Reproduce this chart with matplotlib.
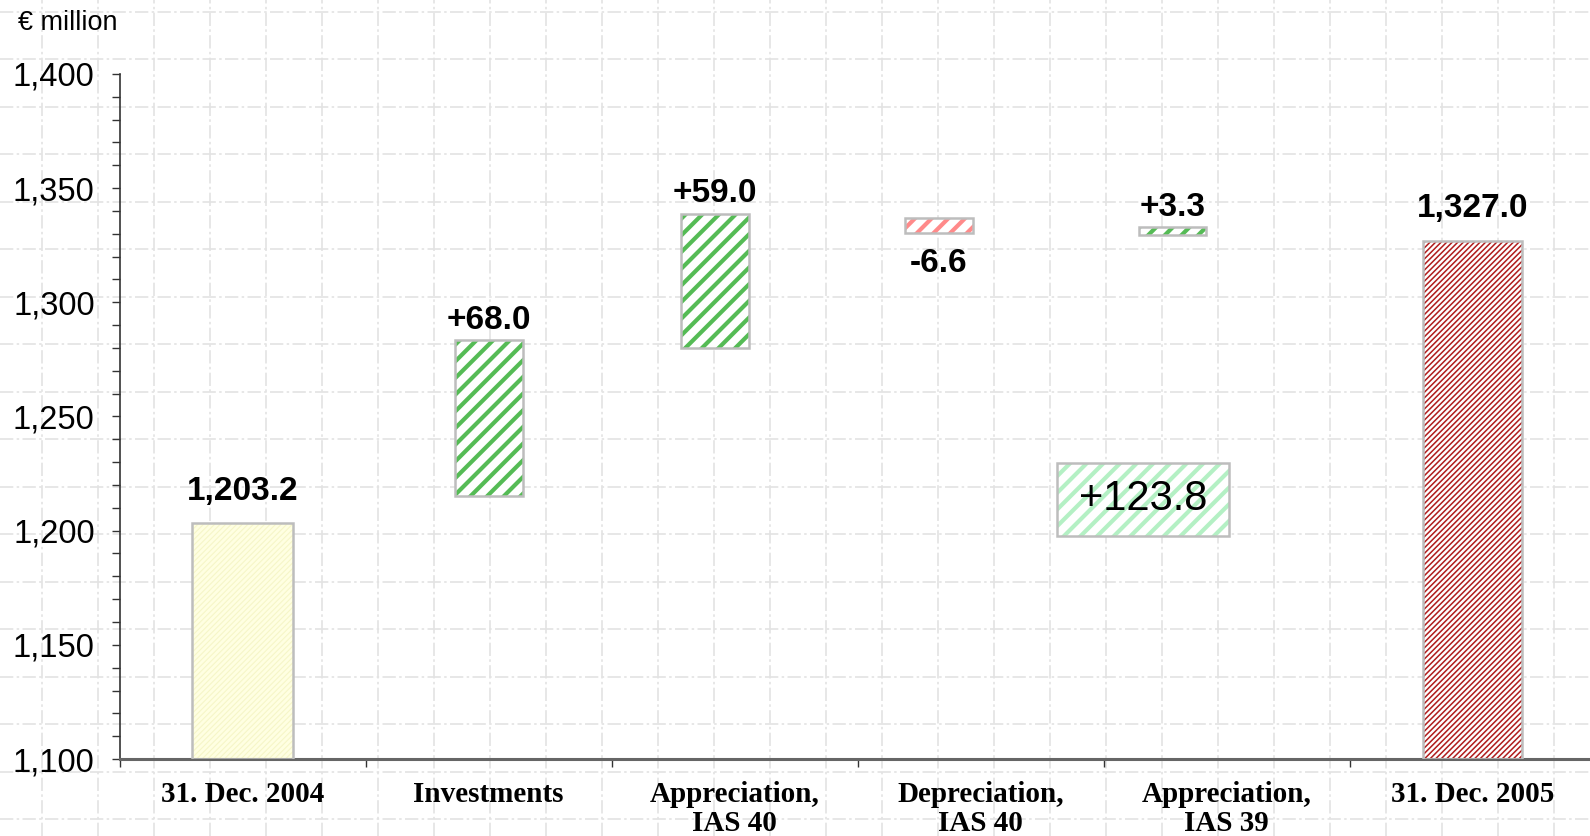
import matplotlib.pyplot as plt
from matplotlib.ticker import MultipleLocator
import numpy as np

categories = ['31. Dec. 2004', 'Investments', 'Appreciation,\nIAS 40',
              'Depreciation,\nIAS 40', 'Appreciation,\nIAS 39', '31. Dec. 2005']
start_value = 1203.2
end_value = 1327.0
changes = [68.0, 59.0, -6.6, 3.3]
change_floor = [1215.3, 1279.9, 1330.3, 1329.7]
y_ticks = [1100, 1150, 1200, 1250, 1300, 1350, 1400]

# change bars sit a little left of their category centre
bar_shift = [0.0, -0.08, -0.17, -0.22]

green = '#55bb55'
red = '#ff8a8a'
edge = '#bdbdbd'

plt.rcParams['font.family'] = ['Liberation Sans', 'DejaVu Sans']

fig = plt.figure(figsize=(15.9, 8.36), dpi=100)

# dash-dot sheet grid behind everything
bg = fig.add_axes([0, 0, 1, 1], zorder=0)
bg.set_xlim(0, 1590)
bg.set_ylim(836, 0)
bg.axis('off')
for gx in np.arange(42, 1590, 56):
    bg.axvline(gx, color='#e3e3e3', lw=1.2, ls=(0, (8, 2, 1.5, 2)))
for gy in np.arange(11.7, 836, 47.5):
    bg.axhline(gy, color='#e3e3e3', lw=1.2, ls=(0, (8, 2, 1.5, 2)))

ax = fig.add_axes([0.0753, 0.0921, 0.9247, 0.8194], zorder=1)
ax.patch.set_alpha(0)


def hatched_bar(x, bottom, height, width, face, stripe, hatch, hlw):
    with plt.rc_context({'hatch.linewidth': hlw}):
        bars = ax.bar(x, height, width, bottom=bottom, color=face,
                      edgecolor=stripe, hatch=hatch, linewidth=0, zorder=2)
    for p in bars:
        if hasattr(p, 'set_hatch_linewidth'):
            p.set_hatch_linewidth(hlw)
    ax.bar(x, height, width, bottom=bottom, fill=False,
           edgecolor=edge, linewidth=1.8, zorder=3)


# opening and closing totals
hatched_bar(0, 1100, start_value - 1100, 0.41, '#ffffe2', '#f6f6c8', '//////', 0.8)
hatched_bar(5, 1100, end_value - 1100, 0.40, 'white', '#b01c1c', '//////', 1.1)

ax.annotate(f'{start_value:,.1f}', (0, start_value), xytext=(0, 17),
            textcoords='offset points', ha='center', va='baseline',
            fontsize=24, fontweight='bold')
ax.annotate(f'{end_value:,.1f}', (5, end_value), xytext=(0, 17),
            textcoords='offset points', ha='center', va='baseline',
            fontsize=24, fontweight='bold')

# floating changes
for i, (chg, floor) in enumerate(zip(changes, change_floor)):
    x = i + 1 + bar_shift[i]
    col = green if chg > 0 else red
    hatched_bar(x, floor, abs(chg), 0.275, 'white', col, '//', 3.0)
    if chg > 0:
        ax.annotate(f'+{chg:.1f}', (x, floor + chg), xytext=(0, 8),
                    textcoords='offset points', ha='center', va='baseline',
                    fontsize=24, fontweight='bold')
    else:
        ax.annotate(f'{chg:.1f}', (x, floor), xytext=(0, -11),
                    textcoords='offset points', ha='center', va='top',
                    fontsize=24, fontweight='bold')

# total change box
total = end_value - start_value
with plt.rc_context({'hatch.linewidth': 3.0}):
    box = plt.Rectangle((3.31, 1197.8), 0.70, 32.0, facecolor='white',
                        edgecolor='#b4f0c4', hatch='//', linewidth=0, zorder=2)
if hasattr(box, 'set_hatch_linewidth'):
    box.set_hatch_linewidth(3.0)
ax.add_patch(box)
ax.add_patch(plt.Rectangle((3.31, 1197.8), 0.70, 32.0, fill=False,
                           edgecolor=edge, linewidth=1.8, zorder=3))
ax.text(3.66, 1213.8, f'+{total:.1f}', ha='center', va='center',
        fontsize=30, zorder=4)

ax.set_xlim(-0.5, 5.477)
ax.set_ylim(1100, 1400)

ax.set_yticks(y_ticks)
ax.set_yticklabels([f'{v:,}' for v in y_ticks], fontsize=23.5)
ax.yaxis.set_minor_locator(MultipleLocator(10))
ax.tick_params(axis='y', which='both', direction='out', length=6,
               width=1.0, color='#333333', pad=12)

ax.set_xticks(range(len(categories)))
ax.set_xticklabels(categories, fontsize=21, fontweight='bold',
                   family='Liberation Serif', linespacing=1.08)
ax.set_xticks(np.arange(-0.5, 5.0, 1.0), minor=True)
ax.tick_params(axis='x', which='major', length=0, pad=16)
ax.tick_params(axis='x', which='minor', direction='out', length=6,
               width=1.0, color='#333333')

for side in ['top', 'right']:
    ax.spines[side].set_visible(False)
ax.spines['left'].set_color('#333333')
ax.spines['left'].set_linewidth(1.2)
ax.spines['bottom'].set_color('#666666')
ax.spines['bottom'].set_linewidth(2.2)

fig.text(18 / 1590, 1 - 22.5 / 836, '€ million', fontsize=19.5,
         ha='left', va='center')

fig.savefig('out.png', dpi=100)
